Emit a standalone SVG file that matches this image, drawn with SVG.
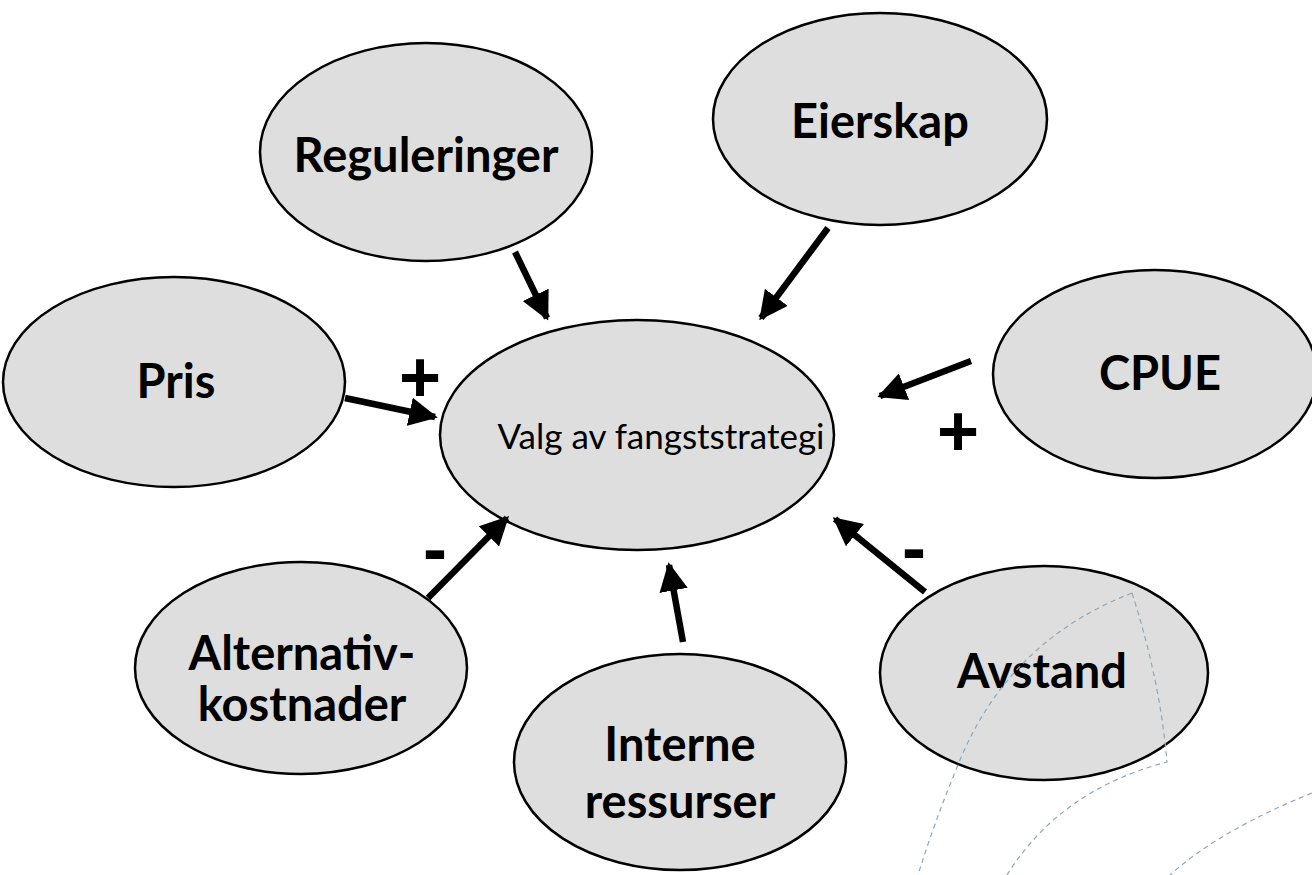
<svg xmlns="http://www.w3.org/2000/svg" width="1312" height="875" viewBox="0 0 1312 875">
<defs>
<style>
.n{fill:#dedede;stroke:#000;stroke-width:2.5}
.t{font-family:Lato,"Liberation Sans",sans-serif;font-weight:bold;font-size:47px;fill:#000;text-anchor:middle}
.c{font-family:Lato,"Liberation Sans",sans-serif;font-size:35px;fill:#000;text-anchor:middle}
.s{font-family:"Liberation Sans",sans-serif;font-weight:bold;font-size:72px;fill:#000;text-anchor:middle}
.a{stroke:#000;stroke-width:6.5;fill:none;marker-end:url(#ah)}
.d{fill:none;stroke:#8fa8ba;stroke-width:1.2;stroke-dasharray:5 4}
</style>
<marker id="ah" viewBox="0 0 10 10" refX="9" refY="5" markerWidth="4.4" markerHeight="4.4" orient="auto" markerUnits="strokeWidth">
<path d="M0,0 L10,5 L0,10 Z" fill="#000"/>
</marker>
</defs>
<rect width="1312" height="875" fill="#fff"/>
<g id="center"><ellipse class="n" cx="637" cy="435" rx="197" ry="115"/><text class="c" x="661" y="449">Valg av fangststrategi</text></g>
<g id="reguleringer"><ellipse class="n" cx="426" cy="152" rx="166" ry="109"/><text class="t" x="426" y="172">Reguleringer</text></g>
<g id="eierskap"><ellipse class="n" cx="880" cy="119" rx="167" ry="106"/><text class="t" x="880" y="138">Eierskap</text></g>
<g id="pris"><ellipse class="n" cx="174" cy="382" rx="171" ry="105"/><text class="t" x="176" y="398">Pris</text></g>
<g id="cpue"><ellipse class="n" cx="1155" cy="374" rx="162" ry="104"/><text class="t" x="1160" y="390">CPUE</text></g>
<g id="alternativ"><ellipse class="n" cx="301" cy="668" rx="166" ry="106"/><text class="t" x="302" y="670">Alternativ-</text><text class="t" x="302" y="721">kostnader</text></g>
<g id="interne"><ellipse class="n" cx="680" cy="762" rx="166" ry="108"/><text class="t" x="680" y="761">Interne</text><text class="t" x="680" y="818">ressurser</text></g>
<g id="avstand"><ellipse class="n" cx="1044" cy="673" rx="164" ry="107"/><text class="t" x="1042" y="688">Avstand</text></g>
<g id="decor">
<path class="d" d="M1132,593 Q1010,640 960,760 Q935,820 918,875"/>
<path class="d" d="M1132,593 Q1160,680 1167,762 Q1060,790 1007,875"/>
<path class="d" d="M1312,793 Q1220,830 1170,875"/>
</g>
<g id="connectors">
<line class="a" x1="515" y1="252" x2="547" y2="318"/>
<line class="a" x1="828" y1="228" x2="761" y2="318"/>
<line class="a" x1="345" y1="398" x2="435" y2="417"/>
<line class="a" x1="971" y1="361" x2="880" y2="396"/>
<line class="a" x1="428" y1="598" x2="507" y2="518"/>
<line class="a" x1="683" y1="642" x2="669" y2="565"/>
<line class="a" x1="925" y1="592" x2="835" y2="519"/>
</g>
<g id="signs">
<text class="s" x="420" y="402">+</text>
<text class="s" x="958" y="456">+</text>
<text class="s" x="435" y="573">-</text>
<text class="s" x="914" y="572">-</text>
</g>
</svg>
